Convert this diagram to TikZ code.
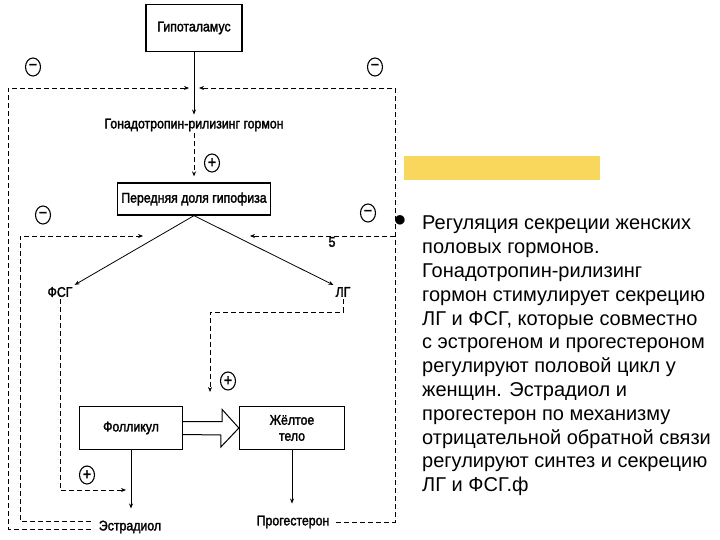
\documentclass[tikz,border=0pt]{standalone}
\usepackage{fontspec}
\setmainfont{Liberation Sans}
\newfontfamily\diagfont[FakeStretch=0.88,FakeBold=2]{Liberation Sans}
\usetikzlibrary{arrows.meta,positioning,shapes.geometric}
\definecolor{slideyellow}{HTML}{F9D65C}

\begin{document}
\begin{tikzpicture}[x=1pt,y=-1pt,
box/.style={draw,line width=1.3pt,align=center,inner sep=2pt,font=\diagfont\fontsize{14}{16}\selectfont},
lbl/.style={inner sep=2pt,font=\diagfont\fontsize{14}{16}\selectfont},
sign/.style={draw,ellipse,line width=1.1pt,minimum width=15pt,minimum height=18pt,inner sep=0pt,font=\diagfont\fontsize{16}{16}\selectfont},
flow/.style={-{Stealth[length=5pt,width=4pt]},line width=0.8pt},
fb/.style={flow,dash pattern=on 5pt off 3pt}]
\useasboundingbox (0,0) rectangle (720,540);
% diagram nodes
\node[box,minimum width=96pt,minimum height=47pt] (hyp) at (194,28) {Гипоталамус};
\node[lbl] (gnrh) at (194,125) {Гонадотропин-рилизинг гормон};
\node[box,minimum width=153pt,minimum height=32pt] (apg) at (194,199) {Передняя доля гипофиза};
\node[lbl] (fsh) at (60,292) {ФСГ};
\node[lbl] (lh) at (343,292) {ЛГ};
\node[box,minimum width=103pt,minimum height=43pt] (fol) at (131,428) {Фолликул};
\node[box,minimum width=105pt,minimum height=43pt] (cl) at (292,428) {Жёлтое\\тело};
\node[lbl] (estr) at (130,527) {Эстрадиол};
\node[lbl] (prog) at (293,522) {Прогестерон};
\node[lbl] (five) at (332,242) {5};
\node[sign] (mtl) at (33,67) {−};
\node[sign] (mtr) at (375,67) {−};
\node[sign] (mml) at (43,215) {−};
\node[sign] (mmr) at (368,213) {−};
\node[sign] (pgn) at (212,163) {+};
\node[sign] (plh) at (228,381) {+};
\node[sign] (pfsh) at (87,475) {+};
% free ends of the feedback lines
\coordinate (tl) at (8,88);
\coordinate (tr) at (395,88);
\coordinate (ml) at (20,236);
\coordinate (mr) at (395,236);
\coordinate (tipl) at (143,236);
\coordinate (tipr) at (250,236);
\coordinate (lhturn) at (210,312);
\coordinate (tiplh) at (210,392);
\coordinate (tipfsh) at (126,490);
% solid connectors
\draw[flow,shorten >=2pt] (hyp) -- (gnrh);
\draw[flow] (apg.south) -- (fsh.north east);
\draw[flow] (apg.south) -- (lh.north west);
\draw[flow,shorten >=10pt] (fol.south) -- (fol.south |- estr.north);
\draw[flow,shorten >=10pt] (cl.south) -- (cl.south |- prog.north);
\draw[line width=1pt,fill=white] ([yshift=6.5pt]fol.east) -- ++(39,0) -- ++(0,-12) -- (cl.west)
  -- ++(-18,19) -- ++(0,-12) -- ([yshift=-6.5pt]fol.east);
% dashed connectors
\draw[fb,shorten >=6pt] (gnrh.south) -- (apg.north);
\draw[fb,shorten <=6pt,shorten >=5pt] ([yshift=-2pt]estr.west) -| (tl) -- (tl -| hyp.south);
\draw[fb,shorten <=4pt,shorten >=5pt] (prog.east) -| (tr) -- (tr -| hyp.south);
\draw[fb,shorten <=6pt] ([yshift=6pt]estr.west) -| (ml) -- (tipl);
\draw[fb] (mr) -- (tipr);
\draw[fb] (lh.south) |- (lhturn) -- (tiplh);
\draw[fb] (fsh.south) |- (tipfsh);
% slide text
\fill[slideyellow] (404,156) rectangle (600,180);
\node[inner sep=0pt,font=\fontsize{22}{22}\selectfont] (dot) at (400,221) {●};
\node[anchor=north west,inner sep=0pt,align=left,font=\fontsize{20}{23.8}\selectfont] (txt) at (422,216) {Регуляция секреции женских\\половых гормонов.\\Гонадотропин-рилизинг\\гормон стимулирует секрецию\\ЛГ и ФСГ, которые совместно\\с эстрогеном и прогестероном\\регулируют половой цикл у\\женщин. Эстрадиол и\\прогестерон по механизму\\отрицательной обратной связи\\регулируют синтез и секрецию\\ЛГ и ФСГ.ф};
\end{tikzpicture}
\end{document}
